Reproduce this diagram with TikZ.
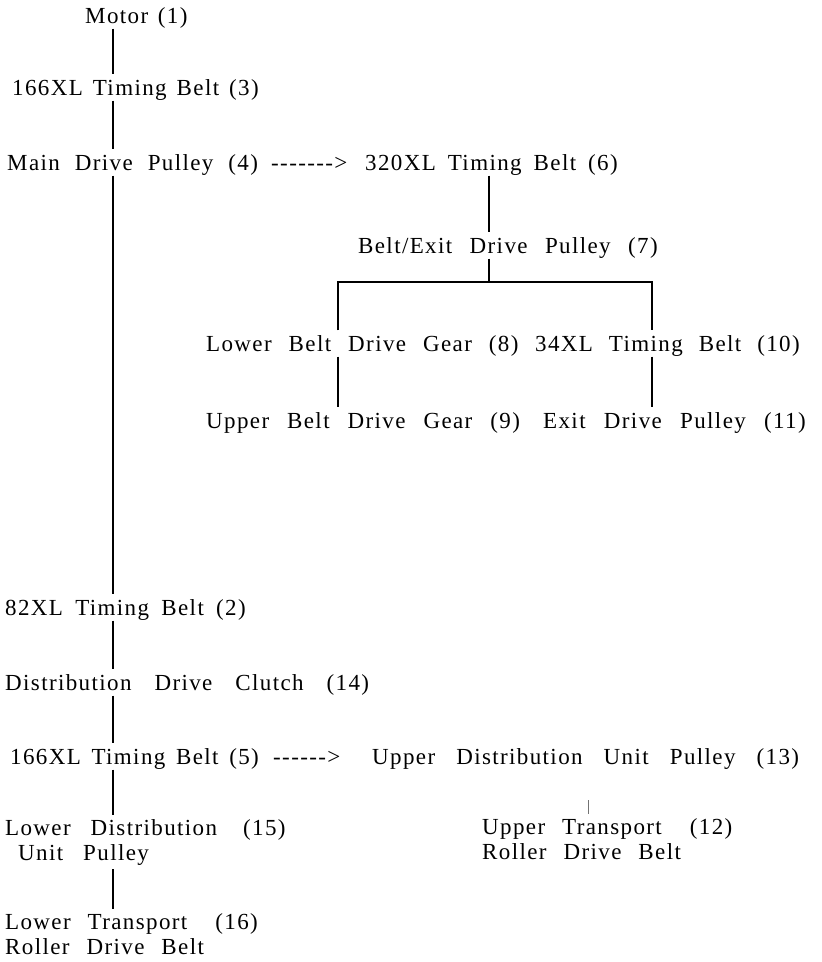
\documentclass[tikz,border=0pt]{standalone}
\usepackage{fontspec}
\setmainfont{Liberation Serif}[Ligatures=TeXOff,LetterSpace=6]
\begin{document}
\begin{tikzpicture}[x=1pt,y=-1pt,
  ws/.style={font={\fontsize{23}{25}\selectfont\spaceskip=#1pt\relax}},
  lbl/.style={anchor=base west,inner xsep=0pt,inner ysep=4.5pt,
    text height=16pt,text depth=1pt,ws=14},
  lbl2/.style={anchor=base west,inner xsep=0pt,inner ysep=4pt,
    align=left,ws=#1},
  link/.style={line width=1.8pt},
  tick/.style={line width=0.5pt,black!55}]
\useasboundingbox (0,0) rectangle (822,962);

% drive train labels
\node[lbl,ws=9.7] (motor) at (85,23) {Motor (1)};
\node[lbl,ws=10] (b3) at (12,95) {166XL Timing Belt (3)};
\node[lbl,ws=15] (p4) at (7,170) {Main Drive Pulley (4)};
\node[lbl] (d1) at (271,170) {------->};
\node[lbl,ws=12] (b6) at (365,170) {320XL Timing Belt (6)};
\node[lbl,ws=17.4] (p7) at (358,253) {Belt/Exit Drive Pulley (7)};
\node[lbl,ws=17] (g8) at (206,351) {Lower Belt Drive Gear (8)};
\node[lbl,ws=16] (b10) at (535,351) {34XL Timing Belt (10)};
\node[lbl,ws=18] (g9) at (206,428) {Upper Belt Drive Gear (9)};
\node[lbl,ws=18.3] (p11) at (543,428) {Exit Drive Pulley (11)};
\node[lbl,ws=12.3] (b2) at (5,615) {82XL Timing Belt (2)};
\node[lbl,ws=23] (c14) at (5,690) {Distribution Drive Clutch (14)};
\node[lbl,ws=10.7] (b5) at (10,764) {166XL Timing Belt (5)};
\node[lbl] (d2) at (273,764) {------>};
\node[lbl,ws=21.1] (p13) at (372,764) {Upper Distribution Unit Pulley (13)};
\node[lbl2=20] (p15) at (5,860) {Lower Distribution\hspace{6pt} (15)\\\hspace*{13pt}Unit Pulley};
\node[lbl2=17] (t12) at (482,859) {Upper Transport\hspace{11pt} (12)\\Roller Drive Belt};
\node[lbl2=17] (t16) at (5,954) {Lower Transport\hspace{11pt} (16)\\Roller Drive Belt};

% connector axes
\coordinate (trunk) at (113,0);
\coordinate (mid) at (489,282);
\coordinate (bl) at (338,282);
\coordinate (br) at (652,282);
\coordinate (tk) at (588,0);

% main shaft
\draw[link] (motor.south -| trunk) -- (b3.north -| trunk);
\draw[link] (b3.south -| trunk) -- (p4.north -| trunk);
\draw[link] (p4.south -| trunk) -- (b2.north -| trunk);
\draw[link] (b2.south -| trunk) -- (c14.north -| trunk);
\draw[link] (c14.south -| trunk) -- (b5.north -| trunk);
\draw[link] (b5.south -| trunk) -- (p15.north -| trunk);
\draw[link] (p15.south -| trunk) -- (t16.north -| trunk);

% belt/exit branch
\draw[link] (b6.south -| mid) -- (p7.north -| mid);
\draw[link] (p7.south -| mid) -- (mid);
\draw[link] (g8.north -| bl) -- (bl) -- (br) -- (b10.north -| br);
\draw[link] (g8.south -| bl) -- (g9.north -| bl);
\draw[link] (b10.south -| br) -- (p11.north -| br);

% upper distribution branch
\draw[tick] (t12.north -| tk) -- ++(0,-14);
\end{tikzpicture}
\end{document}
